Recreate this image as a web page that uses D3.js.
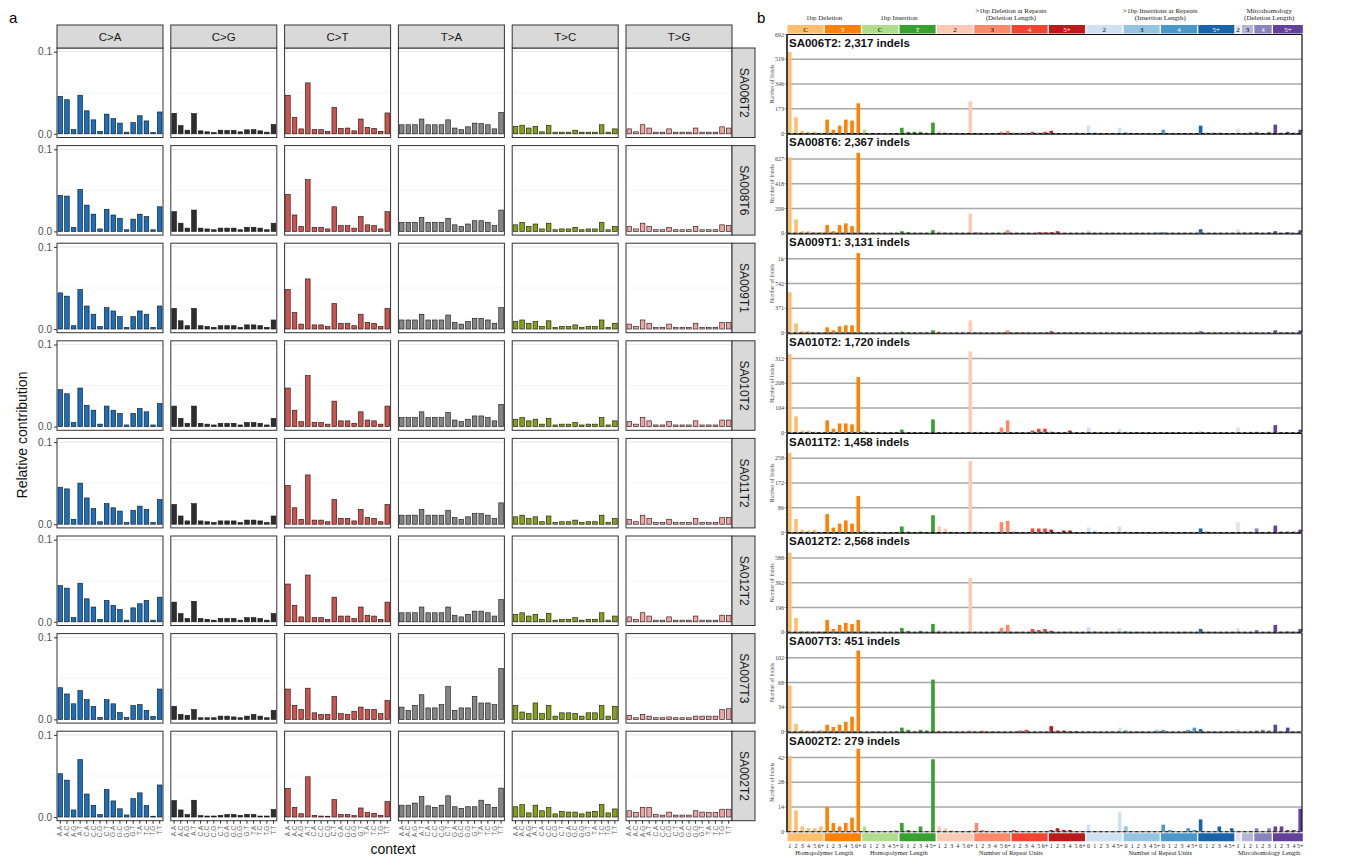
<!DOCTYPE html>
<html><head><meta charset="utf-8">
<script src="https://cdn.jsdelivr.net/npm/d3@7"></script>
<style>body{margin:0;background:#fff}svg{display:block}</style>
</head><body>
<svg id="fig" width="1347" height="857"></svg>
<script>
// ---- shared labels ----
const samples = ["SA006T2","SA008T6","SA009T1","SA010T2","SA011T2","SA012T2","SA007T3","SA002T2"];
const substitutionTypes = ["C>A","C>G","C>T","T>A","T>C","T>G"];
const trinucContexts = ["A.A","A.C","A.G","A.T","C.A","C.C","C.G","C.T","G.A","G.C","G.G","G.T","T.A","T.C","T.G","T.T"];
const substitutionColors = ["#1a6fbd","#2e2e2e","#d0524c","#858585","#87a01a","#f2a3a3"];

// ---- relative contribution of the 96 SBS channels (C>A, C>G, C>T, T>A, T>C, T>G; 16 contexts each) ----
const snvSA006T2 = [
 .0456,.0415,.005,.047,.028,.017,.003,.024,.0185,.013,.002,.0137,.022,.0157,.0016,.0266,
 .025,.010,.0044,.0246,.0036,.0024,.0016,.0044,.004,.004,.0024,.0048,.005,.0036,.002,.0113,
 .047,.0198,.006,.062,.005,.005,.003,.032,.0065,.007,.0036,.018,.0077,.0065,.003,.0254,
 .011,.011,.011,.018,.011,.011,.011,.017,.007,.005,.0085,.013,.0125,.011,.006,.026,
 .009,.0105,.007,.009,.0024,.010,.002,.002,.002,.0044,.002,.002,.002,.011,.002,.006,
 .006,.0024,.011,.007,.002,.002,.006,.002,.002,.002,.007,.002,.002,.002,.0085,.007];
const snvSA008T6 = [
 .044,.043,.005,.051,.032,.021,.003,.027,.020,.016,.002,.015,.021,.018,.002,.030,
 .024,.010,.004,.026,.004,.003,.002,.004,.004,.004,.002,.005,.005,.004,.002,.010,
 .045,.020,.006,.063,.005,.005,.003,.030,.007,.007,.004,.018,.008,.007,.003,.024,
 .011,.011,.011,.017,.011,.011,.011,.016,.008,.006,.009,.013,.013,.011,.007,.026,
 .008,.011,.006,.009,.003,.010,.002,.003,.003,.005,.002,.003,.003,.011,.002,.006,
 .006,.003,.010,.006,.002,.002,.005,.002,.002,.002,.006,.002,.002,.002,.008,.007];
const snvSA009T1 = [
 .044,.040,.004,.048,.028,.018,.003,.026,.022,.015,.002,.015,.022,.018,.002,.028,
 .025,.010,.004,.025,.004,.003,.002,.004,.004,.004,.002,.005,.005,.004,.002,.011,
 .048,.020,.006,.061,.005,.005,.003,.031,.007,.007,.004,.018,.008,.007,.003,.025,
 .011,.011,.011,.018,.011,.011,.011,.017,.008,.006,.009,.013,.013,.011,.007,.026,
 .009,.011,.007,.009,.003,.010,.002,.003,.003,.005,.002,.003,.003,.011,.002,.007,
 .006,.003,.011,.007,.002,.002,.006,.002,.002,.002,.007,.002,.002,.002,.008,.008];
const snvSA010T2 = [
 .045,.040,.005,.047,.026,.020,.003,.025,.020,.016,.002,.016,.022,.018,.002,.028,
 .025,.010,.004,.025,.004,.003,.002,.004,.004,.004,.002,.005,.005,.004,.002,.010,
 .047,.020,.006,.062,.005,.005,.003,.031,.007,.007,.004,.018,.008,.007,.003,.025,
 .011,.011,.011,.018,.011,.011,.011,.017,.008,.006,.009,.013,.013,.011,.007,.027,
 .009,.011,.007,.009,.003,.010,.002,.003,.003,.005,.002,.003,.003,.011,.002,.007,
 .006,.003,.011,.007,.002,.002,.006,.002,.002,.002,.007,.002,.002,.002,.008,.008];
const snvSA011T2 = [
 .045,.043,.006,.050,.032,.019,.003,.025,.020,.016,.002,.017,.022,.018,.002,.030,
 .024,.010,.004,.025,.004,.003,.002,.004,.004,.004,.002,.005,.005,.004,.002,.010,
 .047,.020,.006,.060,.005,.005,.003,.030,.007,.007,.004,.018,.008,.007,.003,.024,
 .011,.011,.011,.018,.011,.011,.011,.017,.008,.006,.009,.013,.013,.011,.007,.026,
 .009,.011,.007,.009,.003,.010,.002,.003,.003,.005,.002,.003,.003,.011,.002,.007,
 .006,.003,.011,.007,.002,.002,.006,.002,.002,.002,.007,.002,.002,.002,.008,.008];
const snvSA012T2 = [
 .044,.041,.005,.047,.028,.018,.003,.026,.020,.015,.002,.017,.022,.026,.002,.030,
 .024,.010,.004,.025,.004,.003,.002,.004,.004,.004,.002,.005,.005,.004,.002,.010,
 .046,.020,.006,.057,.005,.005,.003,.030,.007,.007,.004,.018,.008,.007,.003,.024,
 .011,.011,.011,.018,.011,.011,.011,.018,.008,.006,.009,.013,.013,.011,.007,.027,
 .009,.011,.007,.009,.003,.010,.002,.003,.003,.005,.002,.003,.003,.011,.002,.007,
 .006,.003,.011,.007,.002,.002,.006,.002,.002,.002,.007,.002,.002,.002,.008,.008];
const snvSA007T3 = [
 .0386,.031,.019,.035,.024,.0157,.0024,.024,.019,.0084,.0024,.0169,.018,.011,.0036,.037,
 .016,.006,.005,.012,.002,.002,.002,.004,.004,.003,.002,.004,.006,.004,.002,.011,
 .037,.017,.012,.038,.008,.006,.006,.028,.007,.006,.010,.015,.012,.012,.007,.023,
 .015,.011,.017,.030,.014,.014,.018,.040,.011,.014,.014,.028,.020,.020,.018,.062,
 .017,.009,.007,.020,.007,.017,.004,.008,.008,.007,.004,.008,.008,.017,.004,.016,
 .005,.002,.006,.004,.002,.002,.003,.002,.002,.002,.004,.004,.004,.004,.012,.013];
const snvSA002T2 = [
 .0527,.0449,.0086,.0698,.028,.0143,.003,.0335,.0196,.010,.0025,.0224,.0294,.0139,.001,.039,
 .020,.0086,.003,.0204,.0016,.0012,.0012,.002,.003,.003,.002,.0033,.003,.0012,.0012,.009,
 .0347,.0118,.004,.049,.002,.0012,.001,.0212,.003,.003,.0016,.011,.0053,.0045,.002,.0188,
 .0144,.0144,.017,.025,.0136,.0117,.0144,.0258,.0125,.0106,.0125,.0125,.0205,.0155,.0117,.0352,
 .0125,.015,.005,.0144,.0076,.0114,.0038,.0068,.006,.006,.0038,.006,.0068,.015,.005,.0098,
 .0076,.0053,.0117,.0117,.003,.0023,.006,.0023,.0023,.0023,.0076,.006,.0053,.0053,.0095,.0095];
const snvProfiles = [snvSA006T2,snvSA008T6,snvSA009T1,snvSA010T2,snvSA011T2,snvSA012T2,snvSA007T3,snvSA002T2];

// ---- ID83 indel counts ----
const indelGroups = ["C","T","C","T","2","3","4","5+","2","3","4","5+","2","3","4","5+"];
const indelGroupSizes = [6,6,6,6,6,6,6,6,6,6,6,6,1,2,3,5];
const indelGroupColors = ["#fdbe6f","#ff8002","#b0dd8b","#36a12e","#fdcab5","#fc8a6a","#f14432","#bc191a",
  "#d0e1f2","#94c4df","#4a98c9","#1764ab","#e2e2ef","#b6b6d8","#8683bd","#62409b"];
const indelGroupTextColors = ["#000","#fff","#000","#fff","#000","#000","#fff","#fff",
  "#000","#000","#fff","#fff","#000","#000","#fff","#fff"];
const indelChannelLabels = [
  "1","2","3","4","5","6+","1","2","3","4","5","6+",
  "0","1","2","3","4","5+","0","1","2","3","4","5+",
  "1","2","3","4","5","6+","1","2","3","4","5","6+","1","2","3","4","5","6+","1","2","3","4","5","6+",
  "0","1","2","3","4","5+","0","1","2","3","4","5+","0","1","2","3","4","5+","0","1","2","3","4","5+",
  "1","1","2","1","2","3","1","2","3","4","5+"];
const indelTotals = ["2,317","2,367","3,131","1,720","1,458","2,568","451","279"];
const indelAxisMax = [692,836,1484,416,344,784,136,56];

const indelSA006T2 = [569,114,19,12,12,5, 97,26,55,97,90,211, 26,5,2,3,2,4, 40,12,12,12,5,76,
  19,12,1,1,4,225, 5,3,3,3,12,19, 5,5,5,12,5,12, 19,1,1,1,5,3,
  55,12,0,0,0,40, 12,5,3,3,2,4, 26,2,2,2,2,2, 55,5,5,5,3,3,
  33, 4,12, 12,2,12, 62,5,12,5,26];
const indelSA008T6 = [640,117,17,17,9,9, 69,17,69,83,60,679, 5,2,2,2,2,2, 17,9,2,2,2,26,
  17,9,2,2,2,166, 9,2,2,2,2,26, 2,2,2,2,9,9, 9,17,2,2,2,2,
  26,2,2,2,2,2, 2,2,2,2,2,9, 9,2,2,2,2,2, 34,2,2,2,2,2,
  34, 9,9, 9,2,9, 17,2,9,2,26];
const indelSA009T1 = [611,145,30,30,10,10, 85,40,100,115,115,1198, 5,3,3,3,3,5, 20,8,5,5,5,40,
  30,8,3,3,3,190, 8,3,3,3,8,40, 5,5,5,5,5,5, 25,5,5,5,5,5,
  20,3,3,3,3,15, 3,3,3,3,3,3, 5,3,3,3,3,3, 25,3,3,3,3,3,
  40, 5,5, 5,3,5, 40,3,8,3,40];
const indelSA010T2 = [330,69,9,9,4,1, 52,17,39,39,35,234, 9,1,1,1,1,1, 13,2,2,1,2,56,
  4,4,1,1,1,342, 4,1,1,1,22,52, 1,1,1,9,17,17, 4,1,1,9,1,1,
  22,2,1,1,1,17, 4,1,1,1,1,1, 1,1,1,1,1,1, 4,1,1,1,1,1,
  22, 1,4, 4,1,4, 32,1,1,1,13];
const indelSA011T2 = [277,47,10,7,10,3, 64,17,31,42,31,127, 7,1,1,1,1,1, 21,3,1,3,1,60,
  21,14,3,1,1,248, 3,1,1,1,36,40, 3,1,1,14,14,14, 10,1,7,7,1,1,
  17,7,1,1,1,21, 3,1,1,1,1,1, 3,1,1,1,1,1, 14,3,1,1,1,1,
  36, 3,3, 14,1,3, 24,3,3,3,10];
const indelSA012T2 = [630,114,11,11,5,5, 98,26,58,74,66,98, 11,2,2,2,2,2, 34,11,2,11,2,66,
  18,11,3,2,3,431, 3,1,1,1,34,58, 1,1,1,26,18,26, 11,1,3,3,1,1,
  42,11,1,1,1,34, 11,1,1,1,1,1, 1,1,1,1,1,1, 26,3,1,1,1,1,
  34, 1,3, 18,1,3, 58,3,5,3,26];
const indelSA007T3 = [64,11,3,2,2,3, 10,7,10,14,21,112, 0,0,0,0,0,1, 6,3,0,3,2,72,
  2,1,0,0,0,3, 0,2,0,0,0,0, 0,2,3,0,0,0, 8,2,2,1,1,0,
  1,0,0,0,0,6, 3,0,0,0,0,3, 3,0,0,0,3,6, 4,0,0,0,0,1,
  4, 0,1, 2,3,2, 10,0,6,0,0];
const indelSA002T2 = [43,12,3,2,2,3, 14,5,3,5,8,47, 3,0,0,0,0,1, 5,1,0,3,0,41,
  3,2,1,0,0,1, 5,1,0,0,0,0, 1,0,0,0,0,0, 1,2,1,1,0,0,
  4,0,0,0,0,11, 3,0,0,0,0,0, 4,1,0,0,2,1, 7,0,0,3,0,2,
  0, 0,0, 2,0,2, 3,3,1,1,13];
const indelProfiles = [indelSA006T2,indelSA008T6,indelSA009T1,indelSA010T2,indelSA011T2,indelSA012T2,indelSA007T3,indelSA002T2];

const svg = d3.select("#fig");
const sans = "'Liberation Sans', Arial, Helvetica, sans-serif";
const serif = "'Liberation Serif', 'Times New Roman', serif";

// =================== panel a: 96-channel profiles ===================
const A = {left: 57, top: 48, panelW: 106, panelH: 89.5, colStep: 113.8, rowStep: 97.6};
const pa = svg.append("g");
pa.append("text").attr("x", 9).attr("y", 23).attr("font-family", sans).attr("font-size", 15).text("a");

const xA = d3.scaleBand().domain(trinucContexts).range([0, A.panelW]).paddingInner(0.3).paddingOuter(0.15);
const yA = d3.scaleLinear().domain([-0.0045, 0.1045]).range([A.panelH, 0]);

samples.forEach((s, i) => {
  const rowY = A.top + i * A.rowStep;
  substitutionTypes.forEach((sub, j) => {
    const colX = A.left + j * A.colStep;
    const g = pa.append("g").attr("transform", `translate(${colX},${rowY})`);
    g.append("rect").attr("width", A.panelW).attr("height", A.panelH).attr("fill", "#fff");
    // grid
    g.append("line").attr("x1", 0).attr("x2", A.panelW).attr("y1", yA(0.05)).attr("y2", yA(0.05))
      .attr("stroke", "#f0f0f0").attr("stroke-width", 0.7);
    [0, 0.1].forEach(v => g.append("line").attr("x1", 0).attr("x2", A.panelW).attr("y1", yA(v)).attr("y2", yA(v))
      .attr("stroke", "#ebebeb").attr("stroke-width", 1.2));
    const vals = snvProfiles[i].slice(j * 16, j * 16 + 16);
    g.selectAll("rect.bar").data(vals).join("rect").attr("class", "bar")
      .attr("x", (d, k) => xA(trinucContexts[k]))
      .attr("width", xA.bandwidth())
      .attr("y", d => yA(d))
      .attr("height", d => yA(0) - yA(d))
      .attr("fill", substitutionColors[j])
      .attr("stroke", "#111").attr("stroke-width", 0.6);
    g.append("rect").attr("width", A.panelW).attr("height", A.panelH).attr("fill", "none")
      .attr("stroke", "#333").attr("stroke-width", 1);
    if (i === 0) {
      pa.append("rect").attr("x", colX).attr("y", 25).attr("width", A.panelW).attr("height", 23)
        .attr("fill", "#d9d9d9").attr("stroke", "#333").attr("stroke-width", 1);
      pa.append("text").attr("x", colX + A.panelW / 2).attr("y", 40.5).attr("text-anchor", "middle")
        .attr("font-family", sans).attr("font-size", 11.5).attr("fill", "#1a1a1a").text(sub);
    }
    if (j === 0) {
      const ax = d3.axisLeft(yA).tickValues([0, 0.1]).tickFormat(d3.format(".1f")).tickSize(3).tickPadding(2);
      const ag = g.append("g").call(ax);
      ag.select(".domain").remove();
      ag.selectAll("line").attr("stroke", "#333");
      ag.selectAll("text").attr("font-family", sans).attr("font-size", 10).attr("fill", "#4d4d4d");
    }
    if (i === samples.length - 1) {
      const ax = d3.axisBottom(xA).tickSize(3).tickPadding(2);
      const ag = g.append("g").attr("transform", `translate(0,${A.panelH})`).call(ax);
      ag.select(".domain").remove();
      ag.selectAll("line").attr("stroke", "#333");
      ag.selectAll("text").attr("font-family", sans).attr("font-size", 6.5).attr("fill", "#666")
        .attr("text-anchor", "end").attr("dy", "0.32em").attr("dx", 0)
        .attr("transform", "rotate(-90) translate(-5,-5)").attr("x", 0).attr("y", 5);
    }
  });
  const sx = A.left + 5 * A.colStep + A.panelW;
  pa.append("rect").attr("x", sx).attr("y", rowY).attr("width", 23).attr("height", A.panelH)
    .attr("fill", "#d9d9d9").attr("stroke", "#333").attr("stroke-width", 1);
  pa.append("text").attr("transform", `translate(${sx + 7.5},${rowY + A.panelH / 2}) rotate(90)`)
    .attr("text-anchor", "middle").attr("font-family", sans).attr("font-size", 12).attr("fill", "#1a1a1a").text(s);
});
pa.append("text").attr("transform", "translate(27,435) rotate(-90)").attr("text-anchor", "middle")
  .attr("font-family", sans).attr("font-size", 14).attr("fill", "#111").text("Relative contribution");
pa.append("text").attr("x", 393).attr("y", 854).attr("text-anchor", "middle")
  .attr("font-family", sans).attr("font-size", 14).attr("fill", "#111").text("context");

// =================== panel b: ID83 indel counts ===================
const B = {left: 787, right: 1302, firstZero: 133.5, step: 99.75, height: 99};
const pb = svg.append("g");
pb.append("text").attr("x", 757).attr("y", 23).attr("font-family", sans).attr("font-size", 15).text("b");

const xB = d3.scaleBand().domain(d3.range(83)).range([B.left + 1, B.right]).paddingInner(0.42).paddingOuter(0);

// group index for each channel
const groupStarts = [];
indelGroupSizes.reduce((acc, n, gi) => { groupStarts.push(acc); return acc + n; }, 0);
const channelGroup = [];
indelGroupSizes.forEach((n, gi) => { for (let k = 0; k < n; k++) channelGroup.push(gi); });

function groupSpan(gi) {
  const a = groupStarts[gi], b = a + indelGroupSizes[gi] - 1;
  return [xB(a) - 0.5, xB(b) + xB.bandwidth() + 0.8];
}
function drawGroupBoxes(y, h, withText) {
  indelGroupSizes.forEach((n, gi) => {
    const [x0, x1] = groupSpan(gi);
    pb.append("rect").attr("x", x0).attr("y", y).attr("width", x1 - x0).attr("height", h).attr("fill", indelGroupColors[gi]);
    if (withText) pb.append("text").attr("x", (x0 + x1) / 2).attr("y", y + h - 1.6).attr("text-anchor", "middle")
      .attr("font-family", serif).attr("font-size", 7).attr("fill", indelGroupTextColors[gi]).text(indelGroups[gi]);
  });
}
// header
drawGroupBoxes(25, 8.5, true);
const headerSpans = [
  {g: [0, 1], lines: ["1bp Deletion"]},
  {g: [2, 3], lines: ["1bp Insertion"]},
  {g: [4, 7], lines: [">1bp Deletion at Repeats", "(Deletion Length)"]},
  {g: [8, 11], lines: [">1bp Insertions at Repeats", "(Insertion Length)"]},
  {g: [12, 15], lines: ["Mircohomology", "(Deletion Length)"]}
];
headerSpans.forEach(h => {
  const cx = (groupSpan(h.g[0])[0] + groupSpan(h.g[1])[1]) / 2;
  h.lines.forEach((t, li) => pb.append("text").attr("x", cx).attr("y", 20 - (h.lines.length - 1 - li) * 7.5)
    .attr("text-anchor", "middle").attr("font-family", serif).attr("font-size", 7).attr("fill", "#222").text(t));
});

samples.forEach((s, i) => {
  const zero = B.firstZero + i * B.step;
  const top = zero - B.height;
  const maxV = indelAxisMax[i];
  const y = d3.scaleLinear().domain([0, maxV]).range([zero, top]);
  const ticks = [0, 1, 2, 3, 4].map(k => Math.round(maxV * k / 4));
  const g = pb.append("g");
  g.append("rect").attr("x", B.left).attr("y", top).attr("width", B.right - B.left).attr("height", B.height).attr("fill", "#fff");
  ticks.slice(1, 4).forEach(t => g.append("line").attr("x1", B.left).attr("x2", B.right).attr("y1", y(t)).attr("y2", y(t))
    .attr("stroke", "#a8a8a8").attr("stroke-width", 1.4));
  g.selectAll("rect.bar").data(indelProfiles[i]).join("rect").attr("class", "bar")
    .attr("x", (d, k) => xB(k)).attr("width", xB.bandwidth())
    .attr("y", d => y(d)).attr("height", d => zero - y(d))
    .attr("fill", (d, k) => indelGroupColors[channelGroup[k]]);
  // baseline
  g.append("line").attr("x1", B.left).attr("x2", B.right).attr("y1", zero).attr("y2", zero)
    .attr("stroke", "#8c8c8c").attr("stroke-width", 1.2);
  g.append("line").attr("x1", B.left).attr("x2", B.right).attr("y1", zero).attr("y2", zero)
    .attr("stroke", "#111").attr("stroke-width", 1.2).attr("stroke-dasharray", "3.5,2.5");
  // frame
  g.append("line").attr("x1", B.left).attr("x2", B.left).attr("y1", top).attr("y2", zero).attr("stroke", "#111").attr("stroke-width", 1.6);
  g.append("line").attr("x1", B.right).attr("x2", B.right).attr("y1", top).attr("y2", zero).attr("stroke", "#111").attr("stroke-width", 1.2);
  g.append("line").attr("x1", B.left).attr("x2", B.right).attr("y1", top).attr("y2", top).attr("stroke", "#111").attr("stroke-width", 1.2);
  // y ticks
  const shown = i === 0 ? ticks : ticks.slice(0, 4);
  shown.forEach(t => {
    g.append("line").attr("x1", B.left - 2.5).attr("x2", B.left).attr("y1", y(t)).attr("y2", y(t)).attr("stroke", "#555").attr("stroke-width", 0.6);
    g.append("text").attr("x", B.left - 3).attr("y", y(t) + 2).attr("text-anchor", "end")
      .attr("font-family", serif).attr("font-size", 6).attr("fill", "#444")
      .text(t >= 1000 ? Math.round(t / 1000) + "k" : t);
  });
  g.append("text").attr("transform", `translate(${B.left - 13},${zero - B.height / 2}) rotate(-90)`)
    .attr("text-anchor", "middle").attr("font-family", serif).attr("font-size", 5.5).attr("fill", "#444").text("Number of Indels");
  g.append("text").attr("x", B.left + 2).attr("y", top + 12).attr("font-family", sans).attr("font-weight", "bold")
    .attr("font-size", 11.5).attr("fill", "#111").text(`${s}: ${indelTotals[i]} indels`);
});

// bottom channel boxes, numbers and axis group labels
const bottomZero = B.firstZero + 7 * B.step;
drawGroupBoxes(bottomZero + 1.5, 8, false);
indelChannelLabels.forEach((t, k) => {
  pb.append("text").attr("x", xB(k) + xB.bandwidth() / 2).attr("y", bottomZero + 16.5).attr("text-anchor", "middle")
    .attr("font-family", serif).attr("font-size", 6).attr("fill", "#222").text(t);
});
const footerSpans = [
  {g: [0, 1], t: "Homopolymer Length"},
  {g: [2, 3], t: "Homopolymer Length"},
  {g: [4, 7], t: "Number of Repeat Units"},
  {g: [8, 11], t: "Number of Repeat Units"},
  {g: [12, 15], t: "Mircohomology Length"}
];
footerSpans.forEach(f => {
  const cx = (groupSpan(f.g[0])[0] + groupSpan(f.g[1])[1]) / 2;
  pb.append("text").attr("x", cx).attr("y", bottomZero + 23.5).attr("text-anchor", "middle")
    .attr("font-family", serif).attr("font-size", 6.5).attr("fill", "#222").text(f.t);
});
</script>
</body></html>
